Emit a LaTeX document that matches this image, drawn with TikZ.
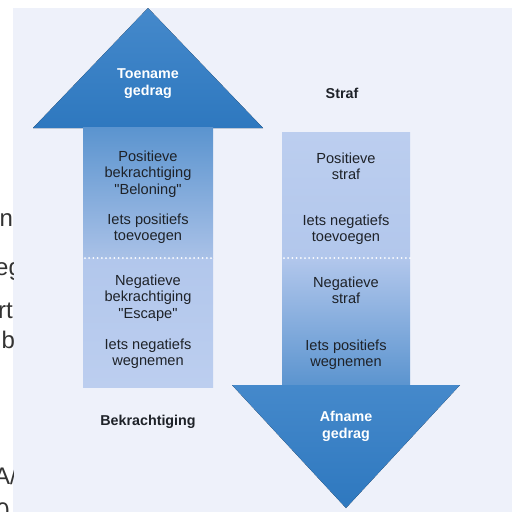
\documentclass[tikz,border=0pt]{standalone}
\usepackage{fontspec}
\setmainfont{Liberation Sans}[Ligatures=TeXOff]
\definecolor{bg}{HTML}{EEF1FA}
\definecolor{ink}{HTML}{1E2228}
\definecolor{fragink}{HTML}{333333}
\definecolor{headT}{HTML}{4589CB}
\definecolor{headB}{HTML}{2E78BF}
\definecolor{shaftDark}{HTML}{5B94CF}
\definecolor{shaftMid}{HTML}{A9C1E7}
\definecolor{shaftLight}{HTML}{B2C7EC}
\definecolor{shaftPale}{HTML}{BCCEEF}
\begin{document}
\begin{tikzpicture}[x=1pt,y=-1pt,
  txt/.style={font=\fontsize{14.6}{16.3}\selectfont, text=ink, align=center, inner sep=0pt},
  ttl/.style={font=\fontsize{14.3}{17}\selectfont\bfseries, text=ink, align=center, inner sep=0pt},
  wttl/.style={ttl, text=white},
  frag/.style={font=\fontsize{24}{24}\selectfont, text=fragink, inner sep=0pt, anchor=base west},
  dots/.style={white, line width=2pt, line cap=round, dash pattern=on 0pt off 4.2pt}]
\useasboundingbox (0,0) rectangle (512,512);
\fill[white] (0,0) rectangle (512,512);
\fill[bg] (13,8) rectangle (512,512);
% fragments of text at the left edge
\begin{scope}
\clip (0,0) rectangle (13,512);
\node[frag] (f1) at (-0.5,226) {n};
\node[frag] (f2) at (-5,275) {eg};
\node[frag] (f3) at (-2,318) {rt};
\node[frag] (f4) at (1.5,348) {b};
\node[frag] (f5) at (-6,484) {A/};
\node[frag] (f6) at (-4,519) {0};
\end{scope}
% up arrow
\fill[top color=headT, bottom color=headB] (33,128) -- (148,8) -- (263,128) -- cycle;
\fill[top color=shaftDark, bottom color=shaftMid] (83,127.5) rectangle (213,258);
\fill[top color=shaftLight, bottom color=shaftPale] (83,258) rectangle (213,387);
\draw[dots] (85,258) -- (213,258);
% down arrow
\fill[top color=shaftPale, bottom color=shaftLight] (282,132) rectangle (410,258);
\fill[top color=shaftLight, bottom color=shaftDark] (282,258) rectangle (410,385.5);
\fill[top color=headT, bottom color=headB] (232,385) -- (460,385) -- (346,508) -- cycle;
\draw[dots] (284,258) -- (410,258);
% texts
\node[wttl] (toename) at (148,83.5) {Toename\\gedrag};
\node[txt] (posbek) at (148,174) {Positieve\\bekrachtiging\\"Beloning"};
\node[txt] (iposT) at (148,229) {Iets positiefs\\toevoegen};
\node[txt] (negbek) at (148,298) {Negatieve\\bekrachtiging\\"Escape"};
\node[txt] (inegW) at (148,354) {Iets negatiefs\\wegnemen};
\node[ttl] (bekr) at (148,422) {Bekrachtiging};
\node[ttl] (straf) at (342,93) {Straf};
\node[txt] (posstraf) at (346,166) {Positieve\\straf};
\node[txt] (inegT) at (346,229.5) {Iets negatiefs\\toevoegen};
\node[txt] (negstraf) at (346,290) {Negatieve\\straf};
\node[txt] (iposW) at (346,355) {Iets positiefs\\wegnemen};
\node[wttl] (afname) at (346,426.5) {Afname\\gedrag};
\end{tikzpicture}
\end{document}
